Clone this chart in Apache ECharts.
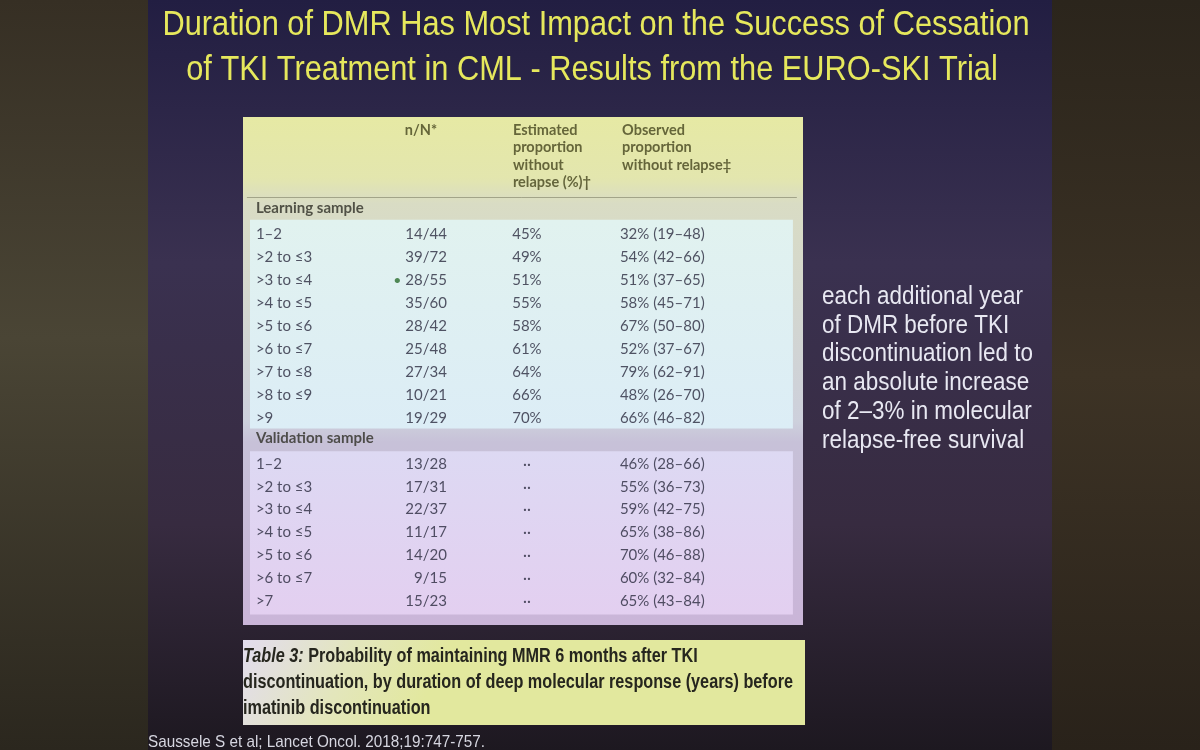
<!DOCTYPE html>
<html>
<head>
<meta charset="utf-8">
<title>EURO-SKI Table 3</title>
<script src="https://cdn.jsdelivr.net/npm/echarts@6/dist/echarts.min.js"></script>
<style>
  html, body { margin: 0; padding: 0; background: #2a2430; }
  #chart { width: 1200px; height: 750px; }
</style>
</head>
<body>
<div id="chart"></div>
<script>
// learning sample, duration of DMR (years)
const learnLabels = ['1–2', '>2 to ≤3', '>3 to ≤4', '>4 to ≤5', '>5 to ≤6', '>6 to ≤7', '>7 to ≤8', '>8 to ≤9', '>9'];
const learnNum = [14, 39, 28, 35, 28, 25, 27, 10, 19];
const learnDen = [44, 72, 55, 60, 42, 48, 34, 21, 29];
const learnEst = [45, 49, 51, 55, 58, 61, 64, 66, 70];
const learnObs = [32, 54, 51, 58, 67, 52, 79, 48, 66];
const learnLo = [19, 42, 37, 45, 50, 37, 62, 26, 46];
const learnHi = [48, 66, 65, 71, 80, 67, 91, 70, 82];
const learnDot = [0, 0, 1, 0, 0, 0, 0, 0, 0];

// validation sample
const validLabels = ['1–2', '>2 to ≤3', '>3 to ≤4', '>4 to ≤5', '>5 to ≤6', '>6 to ≤7', '>7'];
const validNum = [13, 17, 22, 11, 14, 9, 15];
const validDen = [28, 31, 37, 17, 20, 15, 23];
const validObs = [46, 55, 59, 65, 70, 60, 65];
const validLo = [28, 36, 42, 38, 46, 32, 43];
const validHi = [66, 73, 75, 86, 88, 84, 84];

// column headers
const headN = ['n/N*'];
const headEst = ['Estimated', 'proportion', 'without', 'relapse (%)†'];
const headObs = ['Observed', 'proportion', 'without relapse‡'];
const sectionNames = ['Learning sample', 'Validation sample'];

// slide texts
const titleLines = ['Duration of DMR Has Most Impact on the Success of Cessation', 'of TKI Treatment in CML - Results from the EURO-SKI Trial'];
const noteLines = ['each additional year', 'of DMR before TKI', 'discontinuation led to', 'an absolute increase', 'of 2–3% in molecular', 'relapse-free survival'];
const captionLines = ['{i|Table 3:} Probability of maintaining MMR 6 months after TKI', 'discontinuation, by duration of deep molecular response (years) before', 'imatinib discontinuation'];
const sourceText = 'Saussele S et al; Lancet Oncol. 2018;19:747-757.';

// layout (x in panel fraction, y in row units)
const ROW = 23;
const PANEL = { left: 243, top: 117, width: 560, height: 508 };
const COL = { label: 0.023, nHead: 0.289, nRight: 0.364, estHead: 0.482, est: 0.507, obs: 0.673, obsHead: 0.677 };
const headY = k => 0.565 + k * 0.76;
const learnTop = 3.96;
const learnY = i => learnTop + 1.13 + i;
const validTop = learnY(learnLabels.length - 1) + 0.87;
const validY = i => validTop + 1.13 + i * 0.99;

const txt = '#2a2a3e';
const tableFont = 'Lato';
const slideFont = '"Liberation Sans"';

// narrow look: squeeze Liberation Sans to the width seen on the slide
const ctx = document.createElement('canvas').getContext('2d');
function fitScale(text, font, target) {
  ctx.font = font;
  return target / ctx.measureText(text).width;
}
const titleFont = 'normal 35px ' + slideFont;
const titleScale = fitScale(titleLines[0], titleFont, 867);
const noteFont = 'normal 26px ' + slideFont;
const noteScale = fitScale(noteLines[2], noteFont, 211);
const capFont = 'bold 20px ' + slideFont;
const capScale = fitScale(captionLines[1], capFont, 550);
const srcFont = 'normal 17px ' + slideFont;
const srcScale = fitScale(sourceText, srcFont, 337);

const labelPts = [], nPts = [], estPts = [], obsPts = [], sectPts = [], headPts = [];

sectPts.push({ value: [COL.label, learnTop], name: sectionNames[0] });
sectPts.push({ value: [COL.label, validTop], name: sectionNames[1] });

learnLabels.forEach((l, i) => {
  const y = learnY(i);
  labelPts.push({ value: [COL.label, y], name: l });
  nPts.push({ value: [COL.nRight, y], name: (learnDot[i] ? '{dot|•} ' : '') + learnNum[i] + '/' + learnDen[i] });
  estPts.push({ value: [COL.est, y], name: learnEst[i] + '%' });
  obsPts.push({ value: [COL.obs, y], name: learnObs[i] + '% (' + learnLo[i] + '–' + learnHi[i] + ')' });
});
validLabels.forEach((l, i) => {
  const y = validY(i);
  labelPts.push({ value: [COL.label, y], name: l });
  nPts.push({ value: [COL.nRight, y], name: validNum[i] + '/' + validDen[i] });
  estPts.push({ value: [COL.est, y], name: '··' });
  obsPts.push({ value: [COL.obs, y], name: validObs[i] + '% (' + validLo[i] + '–' + validHi[i] + ')' });
});
headN.forEach((t, k) => headPts.push({ value: [COL.nHead, headY(k)], name: t }));
headEst.forEach((t, k) => headPts.push({ value: [COL.estHead, headY(k)], name: t }));
headObs.forEach((t, k) => headPts.push({ value: [COL.obsHead, headY(k)], name: t }));

function grad(x2, y2, stops) {
  return new echarts.graphic.LinearGradient(0, 0, x2, y2, stops.map(c => ({ offset: c[0], color: c[1] })));
}

function textSeries(name, data, position, style) {
  return {
    name: name,
    type: 'scatter',
    data: data,
    symbolSize: 0,
    silent: true,
    itemStyle: { color: 'rgba(0,0,0,0)' },
    label: Object.assign({
      show: true,
      position: position,
      distance: 0,
      formatter: '{b}',
      color: txt,
      fontFamily: tableFont,
      fontSize: 15
    }, style || {})
  };
}

const chart = echarts.init(document.getElementById('chart'));

const boxL = 0.0125, boxR = 0.982;
const labelSeries = textSeries('labels', labelPts, 'right');
labelSeries.markArea = {
  silent: true,
  data: [
    [{ coord: [boxL, learnY(0) - 0.62], itemStyle: { color: grad(0, 1, [[0, '#e1f2ef'], [1, '#dcedf6']]) } },
     { coord: [boxR, learnY(learnLabels.length - 1) + 0.45] }],
    [{ coord: [boxL, validY(0) - 0.56], itemStyle: { color: grad(0, 1, [[0, '#ddd9f3'], [1, '#e3cff0']]) } },
     { coord: [boxR, validY(validLabels.length - 1) + 0.6] }]
  ]
};
labelSeries.markLine = {
  silent: true,
  symbol: ['none', 'none'],
  label: { show: false },
  lineStyle: { color: '#a2a488', width: 1, type: 'solid' },
  data: [[{ coord: [0.007, 3.48] }, { coord: [0.989, 3.48] }]]
};

chart.setOption({
  animation: false,
  backgroundColor: '#2a2430',
  graphic: {
    elements: [
      { type: 'rect', z: -100, shape: { x: 0, y: 0, width: 148, height: 750 },
        style: { fill: grad(0, 1, [[0, '#362f24'], [0.45, '#4a4535'], [1, '#2b271e']]) } },
      { type: 'rect', z: -100, shape: { x: 148, y: 0, width: 904, height: 750 },
        style: { fill: grad(0, 1, [[0, '#221e42'], [0.35, '#3a3150'], [0.7, '#372b40'], [1, '#1d1820']]) } },
      { type: 'rect', z: -100, shape: { x: 1052, y: 0, width: 148, height: 750 },
        style: { fill: grad(0, 1, [[0, '#2b251c'], [0.5, '#3d3325'], [1, '#29221a']]) } },
      { type: 'rect', z: -50, shape: { x: 243, y: 640, width: 562, height: 85 },
        style: { fill: grad(0.3, 1, [[0, '#e2dcee'], [0.55, '#e3e6bc'], [1, '#e2e89e']]) } },
      { type: 'text', x: 596, y: 25, scaleX: titleScale,
        style: { text: titleLines[0], font: titleFont, fill: '#e6e85c', align: 'center', verticalAlign: 'middle' } },
      { type: 'text', x: 592, y: 70, scaleX: titleScale,
        style: { text: titleLines[1], font: titleFont, fill: '#e6e85c', align: 'center', verticalAlign: 'middle' } },
      { type: 'text', x: 822, y: 282, scaleX: noteScale,
        style: { text: noteLines.join('\n'), font: noteFont, lineHeight: 28.9, fill: '#e8e8f2', align: 'left', verticalAlign: 'top' } },
      { type: 'text', x: 243, y: 644, scaleX: capScale,
        style: {
          text: captionLines.join('\n'), fontFamily: 'Liberation Sans', fontWeight: 'bold', fontSize: 20, lineHeight: 25.8,
          fill: '#26261e', align: 'left', verticalAlign: 'top',
          rich: { i: { fontFamily: 'Liberation Sans', fontWeight: 'bold', fontStyle: 'italic', fontSize: 20, lineHeight: 25.8, fill: '#26261e' } }
        } },
      { type: 'text', x: 148, y: 742, scaleX: srcScale,
        style: { text: sourceText, font: srcFont, fill: '#d6d6e0', align: 'left', verticalAlign: 'middle' } }
    ]
  },
  grid: {
    left: PANEL.left, top: PANEL.top, width: PANEL.width, height: PANEL.height,
    show: true, borderWidth: 0,
    backgroundColor: grad(0, 1, [[0, '#e6e9a4'], [0.12, '#e3e6ae'], [0.17, '#d9dcc4'], [0.6, '#cdd0dc'], [0.64, '#c7c1d8'], [1, '#cab5d8']])
  },
  xAxis: { type: 'value', min: 0, max: 1, show: false },
  yAxis: { type: 'value', inverse: true, min: 0, max: PANEL.height / ROW, show: false },
  series: [
    labelSeries,
    textSeries('sections', sectPts, 'right', { fontWeight: 'bold', color: '#2e2e26' }),
    textSeries('nN', nPts, 'left', { rich: { dot: { color: '#2a6e2e', fontSize: 14, fontFamily: tableFont } } }),
    textSeries('est', estPts, 'inside'),
    textSeries('obs', obsPts, 'right'),
    textSeries('headers', headPts, 'right', { fontWeight: 'bold', color: '#45451e', fontSize: 14.5 })
  ]
});
</script>
</body>
</html>
